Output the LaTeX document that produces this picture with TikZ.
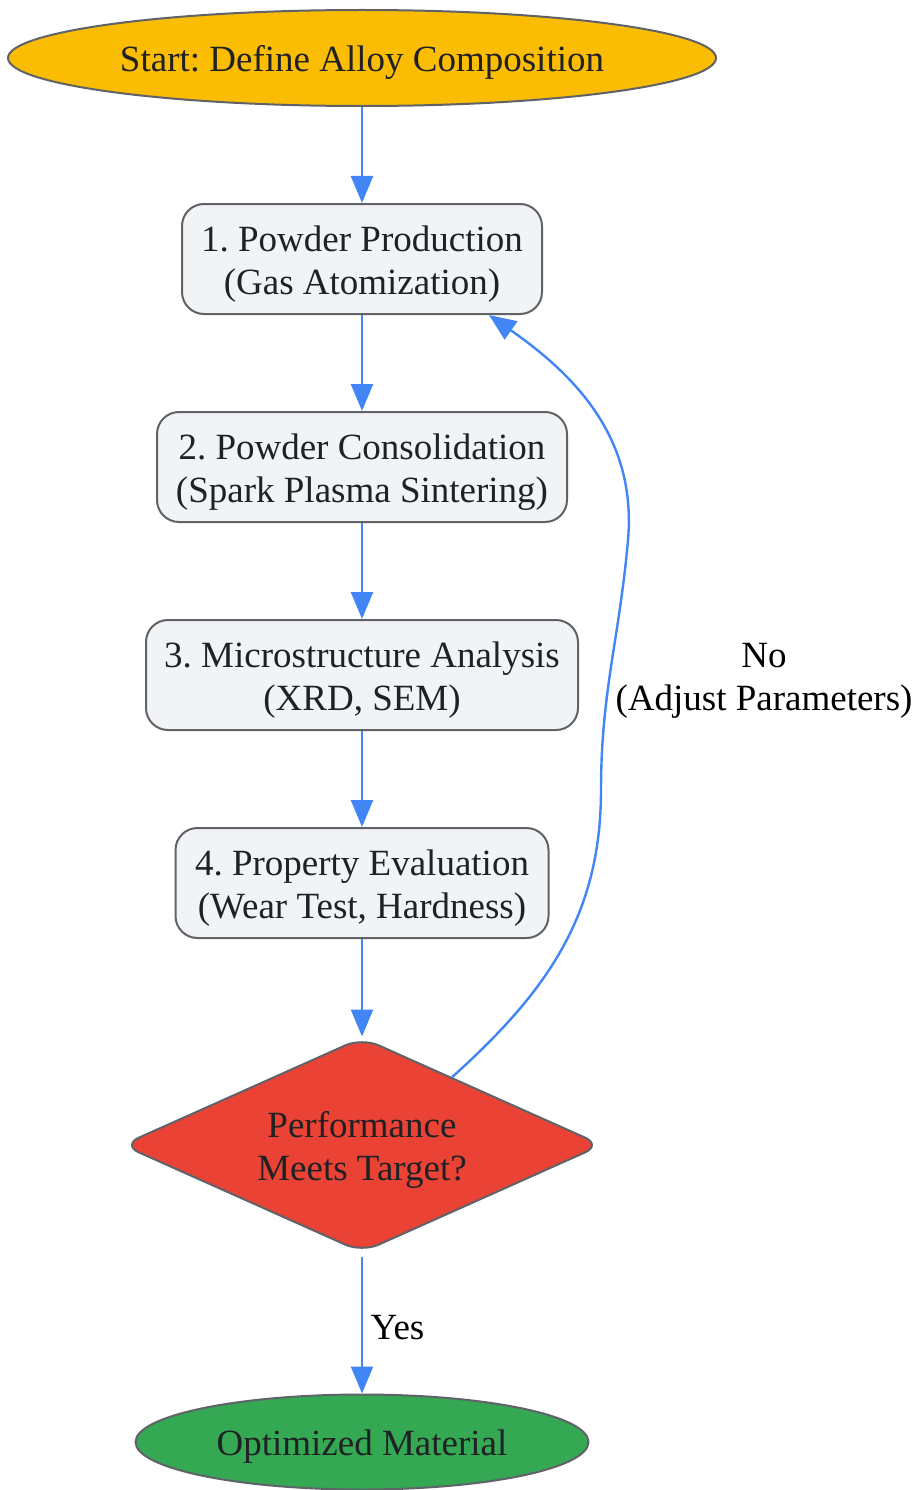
\documentclass[tikz,border=0pt]{standalone}
\usepackage{fontspec}
\setmainfont{Liberation Serif}
\usepackage{xcolor}
\usepackage{tikz}
\usetikzlibrary{arrows.meta,calc,positioning,shapes.geometric}
\frenchspacing
\definecolor{gyellow}{HTML}{FBBC04}
\definecolor{gred}{HTML}{EA4335}
\definecolor{ggreen}{HTML}{34A853}
\definecolor{gblue}{HTML}{4285F4}
\definecolor{ggray}{HTML}{5F6368}
\definecolor{glight}{HTML}{F1F3F4}
\definecolor{gtext}{HTML}{202124}
\tikzset{%
	terminal/.style = {draw=ggray, line width=2pt, ellipse, text=gtext, align=center, inner sep=0pt, text height=36pt, text depth=9pt},
	process/.style  = {draw=ggray, line width=2pt, rectangle, rounded corners=22pt, fill=glight, text=gtext, minimum height=110pt, align=center, inner sep=0pt, text height=80pt, text depth=9pt},
	decision/.style = {draw=ggray, line width=2pt, diamond, aspect=2.23, rounded corners=18pt, fill=gred, text=gtext, minimum width=480pt, minimum height=215pt, align=center, inner sep=0pt, text height=80pt, text depth=9pt},
	link/.style     = {draw=gblue, line width=2.4pt, -{Triangle[length=27pt,width=22pt]}},
	lbl/.style      = {text=black, align=center},
}
\begin{document}
\begin{tikzpicture}[x=1pt,y=-1pt,font=\fontsize{37}{43}\selectfont]
	\useasboundingbox (0,0) rectangle (916,1490);
	% nodes
	\node[terminal, fill=gyellow, minimum width=708pt, minimum height=96pt] (start) at (362,58) {Start: Define Alloy Composition};
	\node[process, minimum width=360pt] (prod) at (362,259) {1. Powder Production\\(Gas Atomization)};
	\node[process, minimum width=410pt] (cons) at (362,467) {2. Powder Consolidation\\(Spark Plasma Sintering)};
	\node[process, minimum width=432pt] (micro) at (362,675) {3. Microstructure Analysis\\(XRD, SEM)};
	\node[process, minimum width=373pt] (prop) at (362,883) {4. Property Evaluation\\(Wear Test, Hardness)};
	\node[decision] (perf) at (362,1145) {Performance\\Meets Target?};
	\node[terminal, fill=ggreen, minimum width=453pt, minimum height=95pt] (opt) at (362,1442) {Optimized Material};
	% connectors
	\draw[link] (start) -- (prod);
	\draw[link] (prod) -- (cons);
	\draw[link] (cons) -- (micro);
	\draw[link] (micro) -- (prop);
	\draw[link] (prop) -- (perf);
	\draw[link] ([yshift=-3pt]perf.south) -- node[lbl, right=4pt, yshift=-3pt] {Yes} (opt);
	\draw[link] (perf.37) to[out=42,in=-90] (601,790) to[out=90,in=-95] (628,540) to[out=85,in=-35] ([xshift=-54pt]prod.south east);
	\node[lbl] (nolbl) at (764,681) {No\\(Adjust Parameters)};
\end{tikzpicture}
\end{document}
